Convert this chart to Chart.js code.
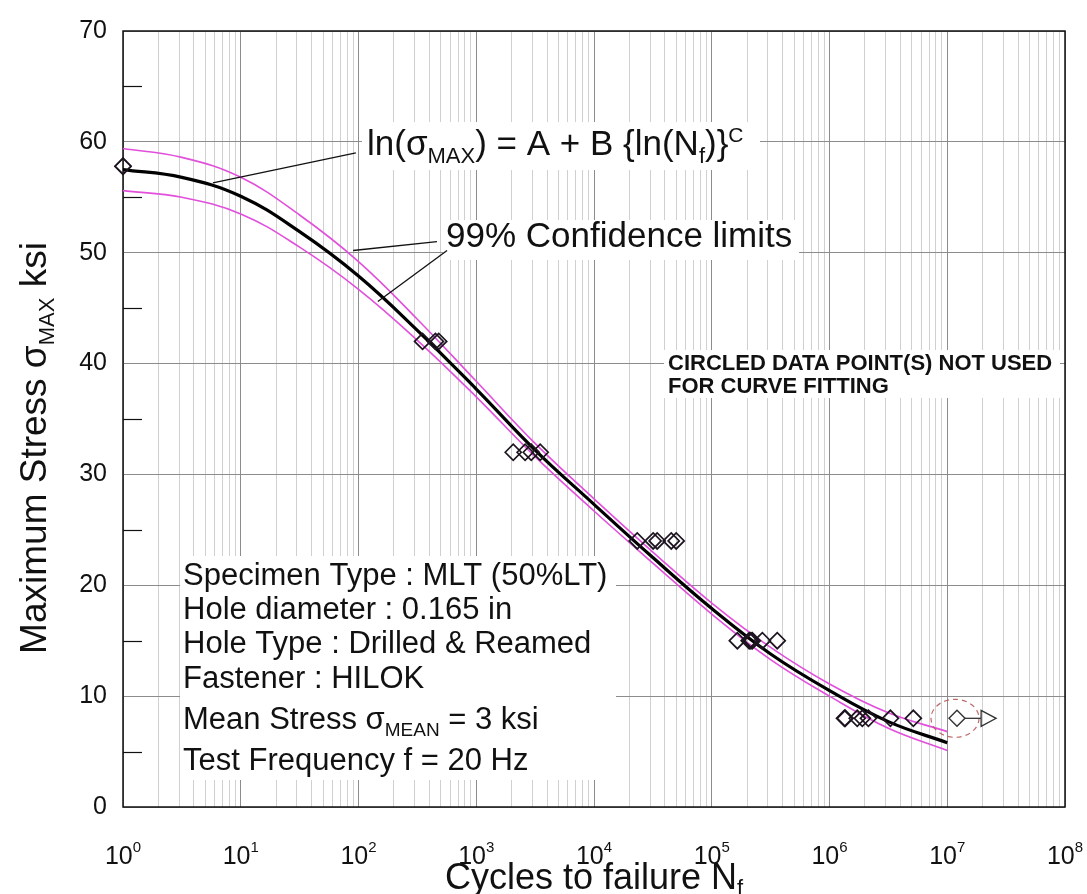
<!DOCTYPE html>
<html><head><meta charset="utf-8">
<script src="https://cdn.jsdelivr.net/npm/chart.js@4.4.1/dist/chart.umd.min.js"></script>
<style>html,body{margin:0;padding:0;background:#fff;overflow:hidden}#wrap{width:1087px;height:894px}</style>
</head><body><div id="wrap"><canvas id="c" width="1087" height="894"></canvas></div>
<script>
const FONT = "'Liberation Sans', Arial, Helvetica, sans-serif";

// ---- axis ticks ----
const xTickExponents = [0, 1, 2, 3, 4, 5, 6, 7, 8];
const yMinorTicks = [5, 15, 25, 35, 45, 55, 65];

// ---- fitted curve and 99% confidence limits ----
const curveN      = [1, 3.16, 10, 31.6, 100, 316, 1000, 3160, 1e4, 3.16e4, 1e5, 3.16e5, 1e6, 3.16e6, 1e7];
const fitStress   = [57.5, 56.8, 55.1, 51.9, 47.9, 43.0, 37.7, 32.2, 27.3, 22.5, 17.9, 13.8, 10.5, 7.7, 5.8];
const upperStress = [59.4, 58.6, 56.8, 53.4, 49.2, 44.0, 38.4, 32.8, 27.8, 23.0, 18.4, 14.4, 11.1, 8.5, 6.8];
const lowerStress = [55.6, 55.0, 53.5, 50.5, 46.7, 42.1, 37.0, 31.6, 26.7, 22.0, 17.4, 13.3, 10.0, 7.1, 5.1];

// ---- test data: stress level and cycles to failure ----
const levelStress = [57.8, 42, 32, 24, 15, 8];
const levelCycles = [
  [1, 1],
  [350, 450, 480],
  [2060, 2600, 2930, 3490],
  [23300, 31800, 34400, 45300, 49900],
  [165000, 208000, 215000, 221000, 269000, 360000],
  [1.34e6, 1.36e6, 1.72e6, 1.9e6, 2.14e6, 3.29e6, 5.15e6]
];
// circled run-out point (not used for fitting)
const runoutCycles = [1.21e7];
const runoutStress = [8];
const runoutArrowTipN = 2.6e7;

// ---- leader lines (data coordinates: [N, stress]) ----
const eqLeader = [[95, 59.0], [5.8, 56.3]];
const ciLeader1 = [[464, 51.0], [90, 50.2]];
const ciLeader2 = [[565, 50.2], [146, 45.6]];

const MAG = '#e24fdc';
const toXY = (xs, ys) => xs.map((x, i) => ({x: x, y: ys[i]}));
const testPoints = [];
levelCycles.forEach((arr, i) => arr.forEach(n => testPoints.push({x: n, y: levelStress[i]})));

const xTickValues = [];
for (let k = 0; k < 8; k++) for (let m = 1; m <= 9; m++) xTickValues.push(m * Math.pow(10, k));
xTickValues.push(1e8);
const isPow10 = v => Math.abs(Math.log10(v) - Math.round(Math.log10(v))) < 1e-9;

function rich(ctx, x, y, parts, align) {
  let w = 0;
  parts.forEach(p => { ctx.font = (p.b ? 'bold ' : '') + p.s + 'px ' + FONT; p.w = ctx.measureText(p.t).width; w += p.w; });
  let cx = align === 'center' ? x - w / 2 : (align === 'right' ? x - w : x);
  ctx.textAlign = 'left'; ctx.textBaseline = 'alphabetic';
  parts.forEach(p => { ctx.font = (p.b ? 'bold ' : '') + p.s + 'px ' + FONT; ctx.fillText(p.t, cx, y + (p.dy || 0)); cx += p.w; });
}

const annot = {
  id: 'annot',
  beforeDatasetsDraw(chart) {
    const c = chart.ctx, a = chart.chartArea, ys = chart.scales.y;
    c.save();
    c.fillStyle = '#fff';
    c.fillRect(362, 122, 398, 48);   // equation box
    c.fillRect(443, 220, 356, 40);   // confidence label box
    c.fillRect(664, 350, 396, 48);   // circled note box
    c.fillRect(180, 556, 436, 224);  // specimen box
    // minor y ticks
    c.strokeStyle = '#111'; c.lineWidth = 1.2;
    yMinorTicks.forEach(v => {
      const py = Math.round(ys.getPixelForValue(v)) + 0.5;
      c.beginPath(); c.moveTo(a.left, py); c.lineTo(a.left + 19, py); c.stroke();
    });
    // plot border
    c.strokeStyle = '#111'; c.lineWidth = 1.5;
    c.strokeRect(a.left, a.top, a.right - a.left, a.bottom - a.top);
    c.restore();
  },
  afterDatasetsDraw(chart) {
    const c = chart.ctx, xs = chart.scales.x, ys = chart.scales.y, a = chart.chartArea;
    const P = (n, s) => [xs.getPixelForValue(n), ys.getPixelForValue(s)];
    c.save();
    // leader lines
    c.strokeStyle = '#111'; c.lineWidth = 1.3;
    [eqLeader, ciLeader1, ciLeader2].forEach(L => {
      const p0 = P(L[0][0], L[0][1]), p1 = P(L[1][0], L[1][1]);
      c.beginPath(); c.moveTo(p0[0], p0[1]); c.lineTo(p1[0], p1[1]); c.stroke();
    });
    // circled runout + arrow
    const rp = P(runoutCycles[0], runoutStress[0]);
    c.strokeStyle = 'rgba(180,80,80,0.85)'; c.lineWidth = 1.2; c.setLineDash([5, 4]);
    c.beginPath(); c.ellipse(rp[0] - 2, rp[1], 24, 19, 0, 0, Math.PI * 2); c.stroke();
    c.setLineDash([]);
    const tip = P(runoutArrowTipN, runoutStress[0]);
    c.strokeStyle = '#333'; c.lineWidth = 1.3;
    c.beginPath(); c.moveTo(rp[0] + 8, rp[1]); c.lineTo(tip[0] - 15, rp[1]); c.stroke();
    c.beginPath(); c.moveTo(tip[0] - 15, rp[1] - 8); c.lineTo(tip[0], rp[1]); c.lineTo(tip[0] - 15, rp[1] + 8); c.closePath(); c.stroke();

    c.fillStyle = '#111';
    // x tick labels 10^k
    xTickExponents.forEach(k => {
      const px = xs.getPixelForValue(Math.pow(10, k));
      rich(c, px, 864, [{t: '10', s: 25}, {t: String(k), s: 15, dy: -12}], 'center');
    });
    // axis titles
    rich(c, (a.left + a.right) / 2, 889, [{t: 'Cycles to failure N', s: 36}, {t: 'f', s: 22, dy: 6}], 'center');
    c.save(); c.translate(46, 448); c.rotate(-Math.PI / 2);
    rich(c, 0, 0, [{t: 'Maximum Stress \u03c3', s: 37}, {t: 'MAX', s: 22, dy: 8}, {t: ' ksi', s: 37}], 'center');
    c.restore();
    // equation
    rich(c, 367, 155, [{t: 'ln(\u03c3', s: 35}, {t: 'MAX', s: 22, dy: 8}, {t: ') = A + B {ln(N', s: 35}, {t: 'f', s: 22, dy: 8}, {t: ')}', s: 35}, {t: 'C', s: 21, dy: -13}], 'left');
    rich(c, 446, 247, [{t: '99% Confidence limits', s: 35}], 'left');
    // circled note
    rich(c, 668, 370, [{t: 'CIRCLED DATA POINT(S) NOT USED', s: 22, b: true}], 'left');
    rich(c, 668, 393, [{t: 'FOR CURVE FITTING', s: 22, b: true}], 'left');
    // specimen info
    rich(c, 183, 585, [{t: 'Specimen Type : MLT (50%LT)', s: 31}], 'left');
    rich(c, 183, 619, [{t: 'Hole diameter : 0.165 in', s: 31}], 'left');
    rich(c, 183, 653, [{t: 'Hole Type : Drilled & Reamed', s: 31}], 'left');
    rich(c, 183, 688, [{t: 'Fastener : HILOK', s: 31}], 'left');
    rich(c, 183, 729, [{t: 'Mean Stress \u03c3', s: 31}, {t: 'MEAN', s: 19, dy: 7}, {t: ' = 3 ksi', s: 31}], 'left');
    rich(c, 183, 770, [{t: 'Test Frequency f = 20 Hz', s: 31}], 'left');
    c.restore();
  }
};

new Chart(document.getElementById('c'), {
  type: 'scatter',
  data: {
    datasets: [
      {label: 'Upper 99%', data: toXY(curveN, upperStress), showLine: true, borderColor: MAG, borderWidth: 1.6, pointRadius: 0, tension: 0.4, order: 3},
      {label: 'Lower 99%', data: toXY(curveN, lowerStress), showLine: true, borderColor: MAG, borderWidth: 1.6, pointRadius: 0, tension: 0.4, order: 3},
      {label: 'Fit', data: toXY(curveN, fitStress), showLine: true, borderColor: '#000', borderWidth: 3.2, pointRadius: 0, tension: 0.4, order: 2},
      {label: 'Test data', data: testPoints, showLine: false, pointStyle: 'rectRot', pointRadius: 8, pointBorderWidth: 1.7, borderColor: '#1d1420', backgroundColor: 'rgba(0,0,0,0)', clip: false, order: 1},
      {label: 'Run-out', data: toXY(runoutCycles, runoutStress), showLine: false, pointStyle: 'rectRot', pointRadius: 8, pointBorderWidth: 1.4, borderColor: '#333', backgroundColor: 'rgba(0,0,0,0)', clip: false, order: 1}
    ]
  },
  options: {
    responsive: false, animation: false, events: [],
    layout: {padding: {left: 0, top: 21, right: 22, bottom: 0}},
    plugins: {legend: {display: false}, tooltip: {enabled: false}},
    scales: {
      x: {
        type: 'logarithmic', min: 1, max: 1e8,
        afterBuildTicks: s => { s.ticks = xTickValues.map(v => ({value: v})); },
        afterFit: s => { s.height = 87; },
        ticks: {display: false},
        grid: {drawTicks: false, lineWidth: 1, color: ctx => (ctx.tick && isPow10(ctx.tick.value)) ? '#8c8c8c' : '#d0d0d0'},
        border: {display: false}
      },
      y: {
        min: 0, max: 70,
        afterFit: s => { s.width = 123; },
        ticks: {stepSize: 10, padding: 16, color: '#111', font: {family: FONT, size: 25}},
        grid: {drawTicks: false, lineWidth: 1, color: '#8c8c8c'},
        border: {display: false}
      }
    }
  },
  plugins: [annot]
});
</script>
</body></html>
